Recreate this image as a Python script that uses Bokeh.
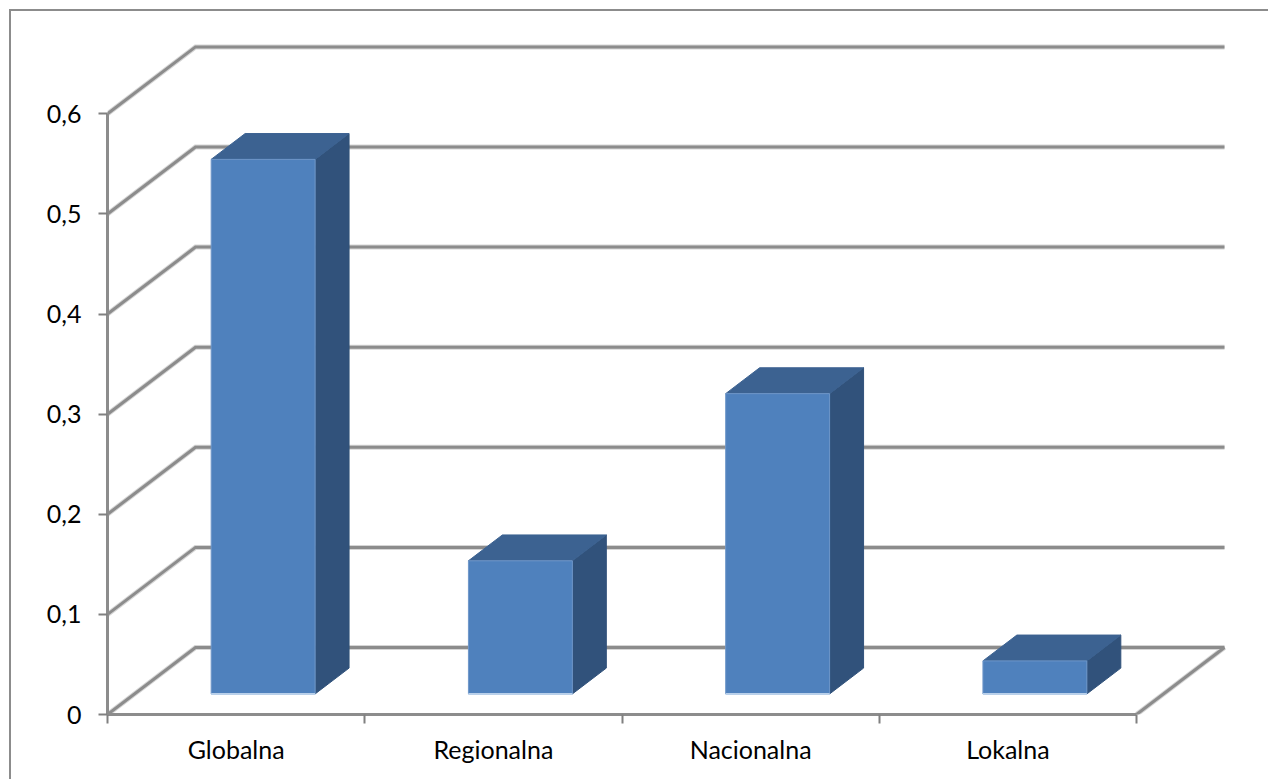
from bokeh.plotting import figure
from bokeh.models import Range1d, FixedTicker
from bokeh.embed import file_html
from bokeh.resources import INLINE

categories = ["Globalna", "Regionalna", "Nacionalna", "Lokalna"]
values = [0.534, 0.133, 0.30, 0.033]
y_ticks = [0, 0.1, 0.2, 0.3, 0.4, 0.5, 0.6]
y_labels = ["0", "0,1", "0,2", "0,3", "0,4", "0,5", "0,6"]

# oblique projection of the depth axis, in data units
DX, DY = 0.342, 0.0669
FONT = "Lato"
GRID = "#8c8c8c"

p = figure(width=1259, height=770, output_backend="svg", toolbar_location=None,
           x_range=Range1d(0, 4.3576), y_range=Range1d(0, 0.6733),
           min_border_left=96, min_border_right=42, min_border_top=29, min_border_bottom=67,
           outline_line_color=None, background_fill_color="white", border_fill_color="white",
           margin=(9, 0, 0, 9),
           styles={"border-left": "2px solid #8c8c8c", "border-top": "2px solid #8c8c8c",
                   "box-sizing": "border-box"})
p.grid.visible = False

cats = len(categories)
xs = [[0, DX, cats + DX] for _ in y_ticks]
ys = [[v, v + DY, v + DY] for v in y_ticks]
xs.append([cats, cats + DX]); ys.append([0, DY])
p.multi_line(xs, ys, line_color="#d6d6d6", line_width=5, line_join="miter")
p.multi_line(xs, ys, line_color=GRID, line_width=3, line_join="miter")

# bars: depth occupies 0.307..0.693 of the floor, width 0.404 of a category
F, B, W = 0.307, 0.693, 0.404
centers = [i + 0.5 for i in range(cats)]
lefts = [c - W / 2 + F * DX for c in centers]
rights = [l + W for l in lefts]
bottom = F * DY
tops = [bottom + v for v in values]
ddx, ddy = (B - F) * DX, (B - F) * DY

p.patches([[r, r + ddx, r + ddx, r] for r in rights],
          [[bottom, bottom + ddy, t + ddy, t] for t in tops],
          fill_color="#31527b", line_color="#31527b", line_width=1)
p.patches([[l, l + ddx, r + ddx, r] for l, r in zip(lefts, rights)],
          [[t, t + ddy, t + ddy, t] for t in tops],
          fill_color="#3c6291", line_color="#3c6291", line_width=1)
p.quad(left=lefts, right=rights, bottom=[bottom] * cats, top=tops,
       fill_color="#4f81bd", line_color="#6f97c9", line_width=1)
p.segment(lefts, [bottom] * cats, rights, [bottom] * cats, line_color="#b9d0ea", line_width=2)

p.xaxis.bounds = (0, cats)
p.yaxis.bounds = (0, 0.6)
p.xaxis.ticker = FixedTicker(ticks=centers, minor_ticks=list(range(cats + 1)))
p.xaxis.major_label_overrides = {c: n for c, n in zip(centers, categories)}
p.yaxis.ticker = FixedTicker(ticks=y_ticks)
p.yaxis.major_label_overrides = {v: s for v, s in zip(y_ticks, y_labels)}
p.yaxis.minor_tick_line_color = None

for ax in (p.xaxis[0], p.yaxis[0]):
    ax.axis_line_color = GRID
    ax.axis_line_width = 3
    ax.major_label_text_font = FONT
    ax.major_label_text_font_size = "25px"
    ax.major_label_text_color = "#000000"
p.xaxis.major_tick_line_color = None
p.xaxis.major_tick_in = 0
p.xaxis.major_tick_out = 0
p.xaxis.minor_tick_line_color = "#808080"
p.xaxis.minor_tick_line_width = 2
p.xaxis.minor_tick_in = 0
p.xaxis.minor_tick_out = 9
p.xaxis.major_label_standoff = 10
p.yaxis.major_tick_line_color = "#808080"
p.yaxis.major_tick_line_width = 2
p.yaxis.major_tick_in = 0
p.yaxis.major_tick_out = 9
p.yaxis.major_label_standoff = 17

open("out.html", "w").write(file_html(p, INLINE))
